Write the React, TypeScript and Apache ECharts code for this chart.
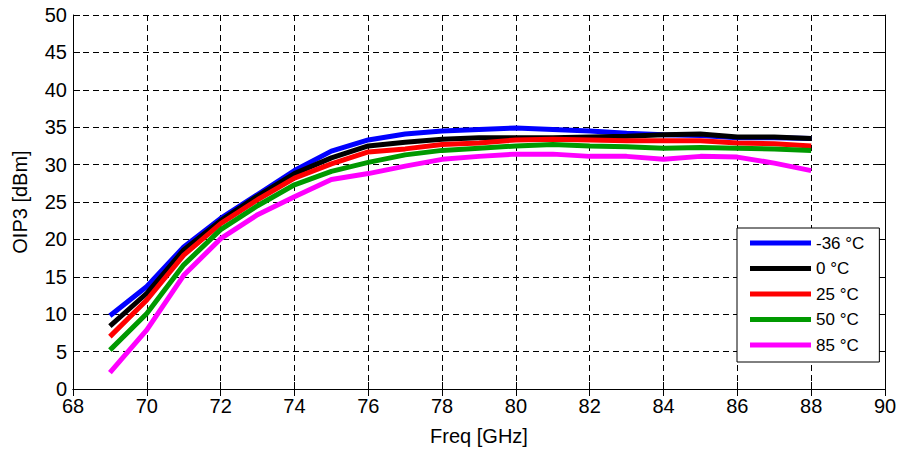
import React, { useEffect, useRef } from "react";
import * as echarts from "echarts";

const freqs = [69, 70, 71, 72, 73, 74, 75, 76, 77, 78, 79, 80, 81, 82, 83, 84, 85, 86, 87, 88];
const seriesNames = ["-36 °C", "0 °C", "25 °C", "50 °C", "85 °C"];
const seriesColors = ["#0000ff", "#000000", "#ff0000", "#009900", "#ff00ff"];
const tMinus36 = [9.8, 13.7, 19.0, 22.8, 26.0, 29.2, 31.8, 33.3, 34.1, 34.5, 34.7, 34.9, 34.7, 34.5, 34.2, 34.0, 33.9, 33.6, 33.6, 33.5];
const t0 = [8.4, 12.8, 18.6, 22.5, 25.8, 28.8, 30.9, 32.5, 33.0, 33.4, 33.6, 33.6, 33.6, 33.7, 33.8, 34.0, 34.1, 33.7, 33.7, 33.5];
const t25 = [7.0, 11.9, 17.9, 22.1, 25.3, 28.2, 30.1, 31.7, 32.1, 32.7, 32.9, 33.3, 33.4, 33.3, 33.2, 33.2, 33.2, 32.9, 32.8, 32.5];
const t50 = [5.2, 10.1, 16.6, 21.3, 24.5, 27.3, 29.1, 30.3, 31.3, 31.9, 32.2, 32.5, 32.7, 32.5, 32.4, 32.2, 32.3, 32.2, 32.1, 31.9];
const t85 = [2.2, 7.9, 15.2, 20.1, 23.3, 25.7, 28.0, 28.8, 29.8, 30.7, 31.1, 31.4, 31.4, 31.1, 31.1, 30.7, 31.1, 31.0, 30.2, 29.2];
const allValues = [tMinus36, t0, t25, t50, t85];

const FONT = "Arial, 'Liberation Sans', sans-serif";

export default function App() {
  const ref = useRef<HTMLDivElement>(null);
  useEffect(() => {
    if (!ref.current) return;
    const chart = echarts.init(ref.current, null, { renderer: "svg" });
    const gridDash = { color: "#000", width: 1, type: [6, 4] as any };
    const tickIn = { show: true, inside: true, length: 7, lineStyle: { color: "#000", width: 1 } };
    chart.setOption({
      animation: false,
      backgroundColor: "#fff",
      grid: { left: 73, top: 15, right: 15, bottom: 65, containLabel: false },
      legend: {
        orient: "vertical",
        left: 737,
        top: 228,
        icon: "rect",
        itemWidth: 61,
        itemHeight: 5,
        itemGap: 5.5,
        padding: [5, 15, 7, 13],
        borderColor: "#000",
        borderWidth: 1,
        backgroundColor: "#fff",
        textStyle: { fontFamily: FONT, fontSize: 17, color: "#000", lineHeight: 20 },
        data: seriesNames,
      },
      xAxis: [
        {
          type: "value",
          min: 68,
          max: 90,
          interval: 2,
          name: "Freq [GHz]",
          nameLocation: "middle",
          nameGap: 37,
          nameTextStyle: { fontFamily: FONT, fontSize: 20, color: "#000" },
          axisLine: { show: true, lineStyle: { color: "#000", width: 1 } },
          axisTick: tickIn,
          axisLabel: { margin: 7, fontFamily: FONT, fontSize: 20, color: "#000" },
          splitLine: { show: true, lineStyle: gridDash },
        },
        {
          type: "value",
          position: "top",
          min: 68,
          max: 90,
          interval: 2,
          axisLine: { show: true, lineStyle: { color: "#000", width: 1 } },
          axisTick: tickIn,
          axisLabel: { show: false },
          splitLine: { show: false },
        },
      ],
      yAxis: [
        {
          type: "value",
          min: 0,
          max: 50,
          interval: 5,
          name: "OIP3 [dBm]",
          nameLocation: "middle",
          nameGap: 43,
          nameTextStyle: { fontFamily: FONT, fontSize: 20, color: "#000" },
          axisLine: { show: true, lineStyle: { color: "#000", width: 1 } },
          axisTick: tickIn,
          axisLabel: { margin: 6, fontFamily: FONT, fontSize: 20, color: "#000" },
          splitLine: { show: true, lineStyle: gridDash },
        },
        {
          type: "value",
          position: "right",
          min: 0,
          max: 50,
          interval: 5,
          axisLine: { show: true, lineStyle: { color: "#000", width: 1 } },
          axisTick: tickIn,
          axisLabel: { show: false },
          splitLine: { show: false },
        },
      ],
      series: seriesNames.map((name, i) => ({
        name,
        type: "line",
        xAxisIndex: 0,
        yAxisIndex: 0,
        symbol: "none",
        color: seriesColors[i],
        lineStyle: { color: seriesColors[i], width: 5 },
        data: freqs.map((f, j) => [f, allValues[i][j]]),
      })),
    });
    return () => chart.dispose();
  }, []);
  return <div ref={ref} style={{ width: 900, height: 454, position: "absolute", left: 0, top: 0 }} />;
}
